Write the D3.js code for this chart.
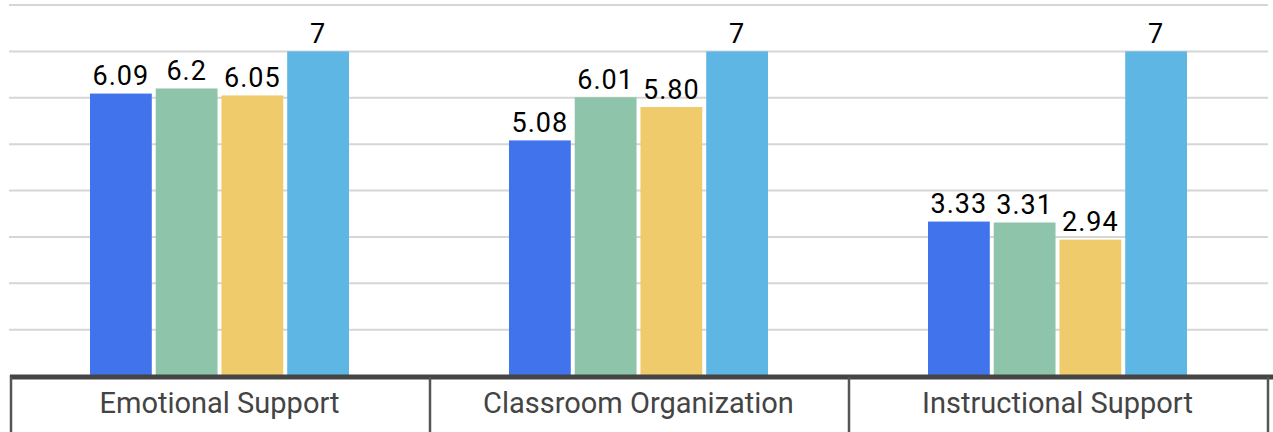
<!DOCTYPE html>
<html>
<head>
<meta charset="utf-8">
<script src="https://cdn.jsdelivr.net/npm/d3@7"></script>
<style>
  html, body { margin: 0; padding: 0; background: #fff; }
  svg { display: block; }
</style>
</head>
<body>
<svg id="chart" width="1273" height="432"></svg>
<script>
// data
const categories = ["Emotional Support", "Classroom Organization", "Instructional Support"];
const seriesKeys = ["s1", "s2", "s3", "s4"];
const s1 = [6.09, 5.08, 3.33];
const s2 = [6.2, 6.01, 3.31];
const s3 = [6.05, 5.80, 2.94];
const s4 = [7, 7, 7];
const labels1 = ["6.09", "5.08", "3.33"];
const labels2 = ["6.2", "6.01", "3.31"];
const labels3 = ["6.05", "5.80", "2.94"];
const labels4 = ["7", "7", "7"];
const yTicks = [0, 1, 2, 3, 4, 5, 6, 7, 8];

const colors = ["#4174ec", "#8ec4a9", "#efcb6b", "#5eb6e5"];
const seriesVals = [s1, s2, s3, s4];
const seriesLabels = [labels1, labels2, labels3, labels4];

const svg = d3.select("#chart");
const plotLeft = 10, plotRight = 1267, plotBase = 376, plotTop = 5;

const x0 = d3.scaleBand().domain(categories).range([plotLeft, plotRight]).padding(0);
const x1 = d3.scaleBand().domain(seriesKeys).range([80, x0.bandwidth() - 80]).paddingInner(0.06);
const y = d3.scaleLinear().domain([0, 8]).range([plotBase, plotTop]);

// gridlines
svg.append("g")
  .selectAll("line")
  .data(yTicks)
  .enter()
  .append("line")
  .attr("x1", plotLeft - 1)
  .attr("x2", plotRight + 1)
  .attr("y1", d => y(d))
  .attr("y2", d => y(d))
  .attr("stroke", "#d6d6d6")
  .attr("stroke-width", 2);

// bars
const rows = [];
categories.forEach((c, i) => {
  seriesKeys.forEach((k, j) => {
    rows.push({cat: c, key: k, v: seriesVals[j][i], label: seriesLabels[j][i], color: colors[j]});
  });
});

const groups = svg.append("g");
groups.selectAll("rect")
  .data(rows)
  .enter()
  .append("rect")
  .attr("x", d => x0(d.cat) + x1(d.key))
  .attr("y", d => y(d.v))
  .attr("width", x1.bandwidth())
  .attr("height", d => plotBase - y(d.v))
  .attr("fill", d => d.color);

groups.selectAll("text")
  .data(rows)
  .enter()
  .append("text")
  .attr("x", d => x0(d.cat) + x1(d.key) + x1.bandwidth() / 2)
  .attr("y", d => y(d.v) - 8.5)
  .attr("text-anchor", "middle")
  .attr("font-family", "Roboto, sans-serif")
  .attr("font-size", "27px")
  .attr("letter-spacing", "1px")
  .attr("fill", "#000")
  .text(d => d.label);

// category axis frame
svg.append("line")
  .attr("x1", plotLeft)
  .attr("x2", 1273)
  .attr("y1", 377)
  .attr("y2", 377)
  .attr("stroke", "#444")
  .attr("stroke-width", 5);

const seps = categories.map(c => x0(c)).concat([plotRight]);
svg.append("g")
  .selectAll("line")
  .data(seps)
  .enter()
  .append("line")
  .attr("x1", d => d + 1)
  .attr("x2", d => d + 1)
  .attr("y1", 377)
  .attr("y2", 432)
  .attr("stroke", "#555")
  .attr("stroke-width", 2.5);

svg.append("g")
  .selectAll("text")
  .data(categories)
  .enter()
  .append("text")
  .attr("x", d => x0(d) + x0.bandwidth() / 2)
  .attr("y", 413)
  .attr("text-anchor", "middle")
  .attr("font-family", "Roboto, sans-serif")
  .attr("font-size", "29px")
  .attr("fill", "#444")
  .text(d => d);
</script>
</body>
</html>
